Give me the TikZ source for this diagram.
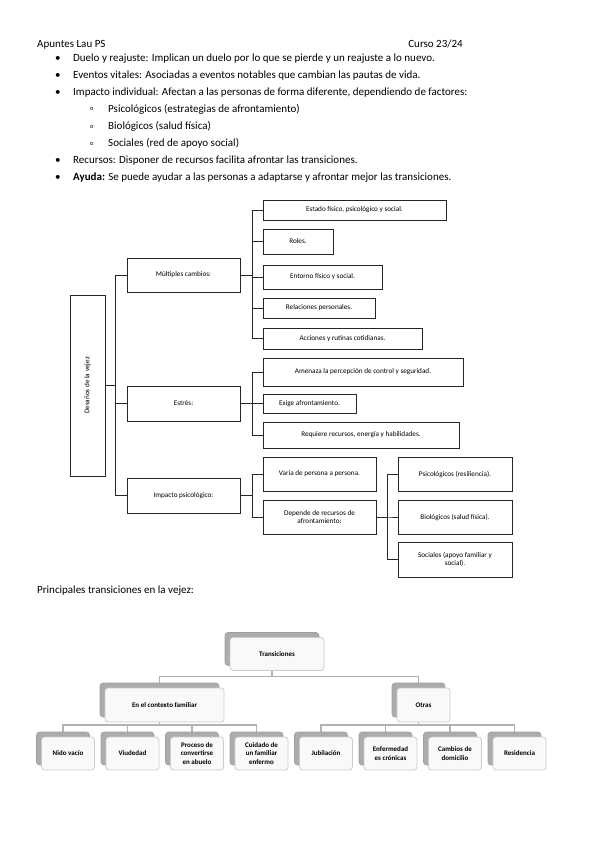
\documentclass[tikz,border=0pt]{standalone}
\usepackage{fontspec}
\setmainfont{Carlito}
\usetikzlibrary{positioning,shadows,backgrounds}

\begin{document}
\begin{tikzpicture}[x=1pt,y=1pt,node distance=11.5pt,
  bodytext/.style={anchor=base west,inner sep=0pt,font=\fontsize{11}{13}\selectfont},
  branch/.style={draw=black!85,line width=1pt,inner sep=2pt,outer sep=0pt,align=center,
    font=\fontsize{7.2}{8.7}\selectfont},
  conn/.style={draw=black!85,line width=1pt},
  card/.style={draw=gray!40,line width=0.8pt,rounded corners=3pt,fill=gray!5,inner sep=2pt,
    outer sep=0pt,align=center,minimum width=53pt,minimum height=33pt,
    font=\fontsize{7}{8.5}\selectfont\bfseries,
    copy shadow={shadow xshift=-5pt,shadow yshift=5pt,fill=gray!65,draw=gray!75,line width=0.6pt}},
  link/.style={draw=gray!60,line width=1.3pt}]
\useasboundingbox (0,0) rectangle (599,-848);

% cabecera y apuntes
\node[bodytext] (head) at (37,-47.5) {Apuntes Lau PS};
\node[bodytext,anchor=base east] (curso) at (463,-47.5) {Curso 23/24};
\node[bodytext] (duelo) at (55,-61.5) {\makebox[18pt][l]{\textbullet}Duelo y reajuste: Implican un duelo por lo que se pierde y un reajuste a lo nuevo.};
\node[bodytext] (eventos) at (55,-78.5) {\makebox[18pt][l]{\textbullet}Eventos vitales: Asociadas a eventos notables que cambian las pautas de vida.};
\node[bodytext] (indiv) at (55,-95.5) {\makebox[18pt][l]{\textbullet}Impacto individual: Afectan a las personas de forma diferente, dependiendo de factores:};
\node[bodytext] (psico) at (90,-112.5) {\makebox[18pt][l]{\raisebox{1.5pt}{\fontsize{6.5}{7}\selectfont o}}Psicológicos (estrategias de afrontamiento)};
\node[bodytext] (bio) at (90,-129.5) {\makebox[18pt][l]{\raisebox{1.5pt}{\fontsize{6.5}{7}\selectfont o}}Biológicos (salud física)};
\node[bodytext] (soc) at (90,-146.5) {\makebox[18pt][l]{\raisebox{1.5pt}{\fontsize{6.5}{7}\selectfont o}}Sociales (red de apoyo social)};
\node[bodytext] (recursos) at (55,-163.5) {\makebox[18pt][l]{\textbullet}Recursos: Disponer de recursos facilita afrontar las transiciones.};
\node[bodytext] (ayuda) at (55,-180.5) {\makebox[18pt][l]{\textbullet}\textbf{Ayuda:} Se puede ayudar a las personas a adaptarse y afrontar mejor las transiciones.};

% desafios de la vejez
\node[branch,minimum width=35pt,minimum height=181pt] (root) at (87.5,-385.5) {\rotatebox{90}{Desaños de la vejez}};
\node[branch,minimum width=113pt,minimum height=34pt] (multi) at (183.5,-275) {Múltiples cambios:};
\node[branch,minimum width=113pt,minimum height=35pt] (estres) at (183.5,-403.5) {Estrés:};
\node[branch,minimum width=113pt,minimum height=35pt] (impacto) at (183.5,-495.5) {Impacto psicológico:};
\node[branch,anchor=west,minimum width=183pt,minimum height=20pt] (estado) at (263,-210) {Estado físico, psicológico y social.};
\node[branch,anchor=west,minimum width=70pt,minimum height=25pt] (roles) at (263,-241.5) {Roles.};
\node[branch,anchor=west,minimum width=119pt,minimum height=24pt] (entorno) at (263,-277) {Entorno físico y social.};
\node[branch,anchor=west,minimum width=112pt,minimum height=20pt] (relac) at (263,-308) {Relaciones personales.};
\node[branch,anchor=west,minimum width=159pt,minimum height=21pt] (acciones) at (263,-338.5) {Acciones y rutinas cotidianas.};
\node[branch,anchor=west,minimum width=200pt,minimum height=28pt] (amenaza) at (263,-372) {Amenaza la percepción de control y seguridad.};
\node[branch,anchor=west,minimum width=93pt,minimum height=19pt] (exige) at (263,-403.5) {Exige afrontamiento.};
\node[branch,anchor=west,minimum width=196pt,minimum height=26pt] (requiere) at (263,-435) {Requiere recursos, energía y habilidades.};
\node[branch,anchor=west,minimum width=113pt,minimum height=34pt] (varia) at (263,-474) {Varía de persona a persona.};
\node[branch,minimum width=113pt,minimum height=34pt,below=9pt of varia] (depende) {Depende de recursos de\\afrontamiento:};
\node[branch,minimum width=114pt,minimum height=34pt,right=22pt of varia] (fpsico) {Psicológicos (resiliencia).};
\node[branch,minimum width=114pt,minimum height=34pt,below=9pt of fpsico] (fbio) {Biológicos (salud física).};
\node[branch,minimum width=114pt,minimum height=35pt,below=8pt of fbio] (fsoc) {Sociales (apoyo familiar y\\social).};
\draw[conn] (root.east) -- ++(10pt,0) |- (multi.west);
\draw[conn] (root.east) -- ++(10pt,0) |- (estres.west);
\draw[conn] (root.east) -- ++(10pt,0) |- (impacto.west);
\draw[conn] (multi.east) -- ++(12pt,0) |- (estado.west);
\draw[conn] (multi.east) -- ++(12pt,0) |- (roles.west);
\draw[conn] (multi.east) -- ++(12pt,0) |- (entorno.west);
\draw[conn] (multi.east) -- ++(12pt,0) |- (relac.west);
\draw[conn] (multi.east) -- ++(12pt,0) |- (acciones.west);
\draw[conn] (estres.east) -- ++(12pt,0) |- (amenaza.west);
\draw[conn] (estres.east) -- ++(12pt,0) |- (exige.west);
\draw[conn] (estres.east) -- ++(12pt,0) |- (requiere.west);
\draw[conn] (impacto.east) -- ++(12pt,0) |- (varia.west);
\draw[conn] (impacto.east) -- ++(12pt,0) |- (depende.west);
\draw[conn] (depende.east) -- ++(11pt,0) |- (fpsico.west);
\draw[conn] (depende.east) -- ++(11pt,0) |- (fbio.west);
\draw[conn] (depende.east) -- ++(11pt,0) |- (fsoc.west);

% transiciones
\node[bodytext] (princ) at (37,-593) {Principales transiciones en la vejez:};
\node[card,minimum width=94pt] (trans) at (277,-654) {Transiciones};
\node[card,minimum width=119pt,minimum height=34pt] (fam) at (164.5,-705) {En el contexto familiar};
\node[card,minimum height=34pt] (otras) at (423.5,-705) {Otras};
\node[card] (nido) at (68,-753.5) {Nido vacío};
\node[card,right=of nido] (viudedad) {Viudedad};
\node[card,right=of viudedad] (abuelo) {Proceso de\\convertirse\\en abuelo};
\node[card,right=of abuelo] (cuidado) {Cuidado de\\un familiar\\enfermo};
\node[card,right=of cuidado] (jubil) {Jubilación};
\node[card,right=of jubil] (enferm) {Enfermedad\\es crónicas};
\node[card,right=of enferm] (domic) {Cambios de\\domicilio};
\node[card,right=of domic] (resid) {Residencia};
\begin{scope}[on background layer]
\draw[link] ([xshift=-5pt]trans.south) -- ++(0,-6pt) -| ([xshift=-5pt]fam.north);
\draw[link] ([xshift=-5pt]trans.south) -- ++(0,-6pt) -| ([xshift=-5pt]otras.north);
\draw[link] ([xshift=-5pt]fam.south) -- ++(0,-3pt) -| ([xshift=-5pt]nido.north);
\draw[link] ([xshift=-5pt]fam.south) -- ++(0,-3pt) -| ([xshift=-5pt]viudedad.north);
\draw[link] ([xshift=-5pt]fam.south) -- ++(0,-3pt) -| ([xshift=-5pt]abuelo.north);
\draw[link] ([xshift=-5pt]fam.south) -- ++(0,-3pt) -| ([xshift=-5pt]cuidado.north);
\draw[link] ([xshift=-5pt]otras.south) -- ++(0,-3pt) -| ([xshift=-5pt]jubil.north);
\draw[link] ([xshift=-5pt]otras.south) -- ++(0,-3pt) -| ([xshift=-5pt]enferm.north);
\draw[link] ([xshift=-5pt]otras.south) -- ++(0,-3pt) -| ([xshift=-5pt]domic.north);
\draw[link] ([xshift=-5pt]otras.south) -- ++(0,-3pt) -| ([xshift=-5pt]resid.north);
\end{scope}
\end{tikzpicture}
\end{document}
